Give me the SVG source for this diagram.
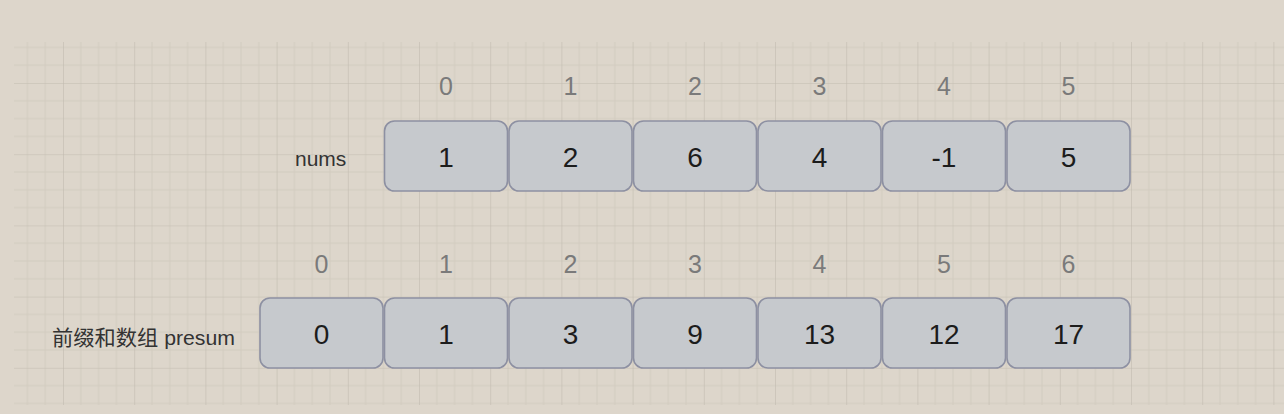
<svg xmlns="http://www.w3.org/2000/svg" width="1284" height="414" viewBox="0 0 1284 414">
  <defs>
    <pattern id="grid" patternUnits="userSpaceOnUse" x="63" y="83" width="71.2" height="71.2">
      <path d="M17.8 0V71.2M35.6 0V71.2M53.4 0V71.2M0 17.8H71.2M0 35.6H71.2M0 53.4H71.2" stroke="#d2cbc0" stroke-width="1" fill="none"/>
      <path d="M0 0V71.2M0 0H71.2" stroke="#c2bbb0" stroke-width="1.2" fill="none"/>
    </pattern>
    <style>
      .cell{fill:#c6c9cd;stroke:#8d90a2;stroke-width:1.6}
      .val{font-family:"Liberation Sans",Arial,sans-serif;font-size:28px;fill:#1c1c1c;text-anchor:middle}
      .idx{font-family:"Liberation Sans",Arial,sans-serif;font-size:25px;fill:#7a7a7a;text-anchor:middle}
      .lbl{font-family:"Liberation Sans","Noto Sans CJK SC",sans-serif;font-size:21px;fill:#333333}
    </style>
  </defs>
  <rect width="1284" height="414" fill="#ddd6cb"/>
  <rect x="14" y="42" width="1270" height="363" fill="url(#grid)"/>

  <g id="connectors"/>

  <g id="label-nums"><text class="lbl" x="295" y="166">nums</text></g>
  <g id="label-presum"><text class="lbl" x="52" y="345" textLength="183" lengthAdjust="spacingAndGlyphs">前缀和数组 presum</text></g>

  <g id="nums-index">
    <text class="idx" x="446" y="95">0</text>
    <text class="idx" x="570.5" y="95">1</text>
    <text class="idx" x="695" y="95">2</text>
    <text class="idx" x="819.5" y="95">3</text>
    <text class="idx" x="944" y="95">4</text>
    <text class="idx" x="1068.5" y="95">5</text>
  </g>

  <g id="nums-0"><rect class="cell" x="384.5" y="121" width="123" height="70" rx="10"/><text class="val" x="446" y="167">1</text></g>
  <g id="nums-1"><rect class="cell" x="509" y="121" width="123" height="70" rx="10"/><text class="val" x="570.5" y="167">2</text></g>
  <g id="nums-2"><rect class="cell" x="633.5" y="121" width="123" height="70" rx="10"/><text class="val" x="695" y="167">6</text></g>
  <g id="nums-3"><rect class="cell" x="758" y="121" width="123" height="70" rx="10"/><text class="val" x="819.5" y="167">4</text></g>
  <g id="nums-4"><rect class="cell" x="882.5" y="121" width="123" height="70" rx="10"/><text class="val" x="944" y="167">-1</text></g>
  <g id="nums-5"><rect class="cell" x="1007" y="121" width="123" height="70" rx="10"/><text class="val" x="1068.5" y="167">5</text></g>

  <g id="presum-index">
    <text class="idx" x="321.5" y="273">0</text>
    <text class="idx" x="446" y="273">1</text>
    <text class="idx" x="570.5" y="273">2</text>
    <text class="idx" x="695" y="273">3</text>
    <text class="idx" x="819.5" y="273">4</text>
    <text class="idx" x="944" y="273">5</text>
    <text class="idx" x="1068.5" y="273">6</text>
  </g>

  <g id="presum-0"><rect class="cell" x="260" y="298" width="123" height="70" rx="10"/><text class="val" x="321.5" y="344">0</text></g>
  <g id="presum-1"><rect class="cell" x="384.5" y="298" width="123" height="70" rx="10"/><text class="val" x="446" y="344">1</text></g>
  <g id="presum-2"><rect class="cell" x="509" y="298" width="123" height="70" rx="10"/><text class="val" x="570.5" y="344">3</text></g>
  <g id="presum-3"><rect class="cell" x="633.5" y="298" width="123" height="70" rx="10"/><text class="val" x="695" y="344">9</text></g>
  <g id="presum-4"><rect class="cell" x="758" y="298" width="123" height="70" rx="10"/><text class="val" x="819.5" y="344">13</text></g>
  <g id="presum-5"><rect class="cell" x="882.5" y="298" width="123" height="70" rx="10"/><text class="val" x="944" y="344">12</text></g>
  <g id="presum-6"><rect class="cell" x="1007" y="298" width="123" height="70" rx="10"/><text class="val" x="1068.5" y="344">17</text></g>
</svg>
